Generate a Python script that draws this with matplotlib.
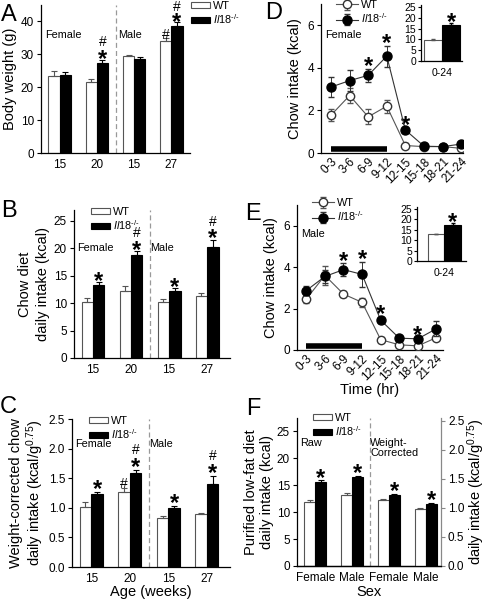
import matplotlib
matplotlib.use('Agg')
import matplotlib.pyplot as plt
import numpy as np

plt.rcParams['font.family'] = ['Liberation Sans', 'DejaVu Sans']
plt.rcParams['mathtext.fontset'] = 'custom'
plt.rcParams['mathtext.rm'] = 'Liberation Sans'
plt.rcParams['mathtext.it'] = 'Liberation Sans:italic'
plt.rcParams['mathtext.bf'] = 'Liberation Sans:bold'
plt.rcParams['axes.linewidth'] = 0.9

KO_LABEL = r'$\mathit{Il18}^{\text{-/-}}$'
WT_LABEL = 'WT'

# ---------------- data ----------------
age_labels = ['15', '20', '15', '27']
sex_labels = ['Female', 'Male', 'Female', 'Male']
time_labels = ['0-3', '3-6', '6-9', '9-12', '12-15', '15-18', '18-21', '21-24']

# A: body weight (g)
bw_wt = [23.5, 21.7, 29.6, 34.1]
bw_wt_err = [1.4, 0.7, 0.2, 1.0]
bw_ko = [23.8, 27.4, 28.6, 38.6]
bw_ko_err = [0.9, 0.8, 0.6, 1.2]

# B: chow daily intake (kcal)
chow_wt = [10.3, 12.3, 10.2, 11.4]
chow_wt_err = [0.7, 0.8, 0.5, 0.5]
chow_ko = [13.3, 18.8, 12.2, 20.3]
chow_ko_err = [0.5, 0.7, 0.5, 1.3]

# C: weight-corrected chow intake (kcal/g^0.75)
wc_wt = [1.02, 1.26, 0.83, 0.89]
wc_wt_err = [0.08, 0.07, 0.03, 0.02]
wc_ko = [1.23, 1.59, 0.99, 1.40]
wc_ko_err = [0.04, 0.05, 0.04, 0.13]

# D: female chow intake by time (kcal)
d_wt = [1.78, 2.70, 1.70, 2.20, 0.35, 0.30, 0.30, 0.22]
d_wt_err = [0.30, 0.35, 0.35, 0.30, 0.10, 0.05, 0.05, 0.10]
d_ko = [3.10, 3.40, 3.65, 4.55, 1.08, 0.32, 0.30, 0.42]
d_ko_err = [0.45, 0.50, 0.30, 0.50, 0.12, 0.05, 0.05, 0.08]
d_tot_wt, d_tot_wt_err = 9.6, 0.5
d_tot_ko, d_tot_ko_err = 16.9, 0.8

# E: male chow intake by time (kcal)
e_wt = [2.46, 3.60, 2.70, 2.30, 0.50, 0.25, 0.20, 0.60]
e_wt_err = [0.20, 0.45, 0.15, 0.20, 0.12, 0.05, 0.05, 0.10]
e_ko = [2.87, 3.55, 3.88, 3.65, 1.44, 0.57, 0.54, 1.03]
e_ko_err = [0.20, 0.30, 0.30, 0.60, 0.15, 0.08, 0.08, 0.35]
e_tot_wt, e_tot_wt_err = 12.8, 0.3
e_tot_ko, e_tot_ko_err = 17.3, 1.0

# F: purified low-fat diet
f_raw_wt = [11.8, 13.2]
f_raw_wt_err = [0.5, 0.4]
f_raw_ko = [15.6, 16.5]
f_raw_ko_err = [0.3, 0.3]
f_wc_wt = [1.13, 0.99]
f_wc_wt_err = [0.03, 0.01]
f_wc_ko = [1.22, 1.07]
f_wc_ko_err = [0.02, 0.02]

# ---------------- layout ----------------
W, H = 487, 601
fig = plt.figure(figsize=(W / 100, H / 100), dpi=100)


def axpx(l, r, t, b):
    return fig.add_axes([l / W, 1 - b / H, (r - l) / W, (b - t) / H])


def fpx(x, y):
    return (x / W, 1 - y / H)


TICK_FS = 8.5
LAB_FS = 10.5
TXT_FS = 7.8
STAR_FS = 17
HASH_FS = 10
BW = 0.3
WT_EDGE = '#555555'
DASH_C = '#999999'


def style(ax, right=False):
    ax.spines['top'].set_visible(False)
    if not right:
        ax.spines['right'].set_visible(False)
    ax.tick_params(axis='y', direction='out', length=3, width=0.8, labelsize=TICK_FS, pad=2)
    ax.tick_params(axis='x', length=0, labelsize=TICK_FS, pad=4)


def bars(ax, x, wt, wte, ko, koe):
    z = np.zeros(len(wt))
    ax.bar(np.asarray(x) - BW / 2, wt, BW, color='white', edgecolor=WT_EDGE, linewidth=0.8,
           yerr=[z, wte], error_kw=dict(ecolor=WT_EDGE, elinewidth=0.8, capsize=2, capthick=0.8))
    ax.bar(np.asarray(x) + BW / 2, ko, BW, color='black', edgecolor='black', linewidth=0.8,
           yerr=[z, koe], error_kw=dict(ecolor='black', elinewidth=0.8, capsize=2, capthick=0.8))


def mark(ax, x, y, star=True, hash_=False, soff=0.5, hoff=None):
    """place * and/or # above a point (offsets in points)"""
    if star:
        ax.annotate('*', (x, y), xytext=(0, soff), textcoords='offset points',
                    ha='center', va='center', fontsize=STAR_FS, fontweight='bold')
    if hash_:
        if hoff is None:
            hoff = soff + 12.5 if star else 1.5
        ax.annotate('#', (x, y), xytext=(0, hoff), textcoords='offset points',
                    ha='center', va='center', fontsize=HASH_FS)


def bar_handles():
    return [plt.Rectangle((0, 0), 1, 1, fc='white', ec=WT_EDGE, lw=0.8),
            plt.Rectangle((0, 0), 1, 1, fc='black', ec='black', lw=0.8)]


def bar_legend(ax, x, y):
    ax.legend(bar_handles(), [WT_LABEL, KO_LABEL], loc='upper left', bbox_to_anchor=fpx(x, y),
              bbox_transform=fig.transFigure, frameon=False, fontsize=TXT_FS,
              handlelength=1.75, handleheight=0.45, handletextpad=0.25, labelspacing=0.1,
              borderpad=0, borderaxespad=0)


# ---------------- A ----------------
axA = axpx(41, 190, 5, 153)
xA = np.arange(4)
bars(axA, xA, bw_wt, bw_wt_err, bw_ko, bw_ko_err)
axA.set_xlim(-0.5, 3.5)
axA.set_ylim(0, 45)
axA.set_yticks([0, 10, 20, 30, 40])
axA.set_xticks(xA)
axA.set_xticklabels(age_labels)
axA.axvline(1.5, color=DASH_C, ls='--', lw=0.9, dashes=(4, 2.5))
style(axA)
axA.set_ylabel('Body weight (g)', fontsize=LAB_FS, labelpad=3)
axA.text(0.03, 0.8, 'Female', transform=axA.transAxes, fontsize=TXT_FS, ha='left', va='center')
axA.text(0.52, 0.8, 'Male', transform=axA.transAxes, fontsize=TXT_FS, ha='left', va='center')
mark(axA, 1 + BW / 2, bw_ko[1] + bw_ko_err[1], hash_=True)
mark(axA, 3 - BW / 2, bw_wt[3] + bw_wt_err[3], star=False, hash_=True)
mark(axA, 3 + BW / 2, bw_ko[3] + bw_ko_err[3], hash_=True, soff=0, hoff=11)
bar_legend(axA, 191, 1)

# ---------------- B ----------------
axB = axpx(74, 230, 210, 358)
bars(axB, xA, chow_wt, chow_wt_err, chow_ko, chow_ko_err)
axB.set_xlim(-0.5, 3.6)
axB.set_ylim(0, 27)
axB.set_yticks([0, 5, 10, 15, 20, 25])
axB.set_xticks(xA)
axB.set_xticklabels(age_labels)
axB.axvline(1.5, color=DASH_C, ls='--', lw=0.9, dashes=(4, 2.5))
style(axB)
axB.set_ylabel('Chow diet\ndaily intake (kcal)', fontsize=LAB_FS, labelpad=3, linespacing=1.3)
axB.text(0.02, 0.74, 'Female', transform=axB.transAxes, fontsize=TXT_FS, ha='left', va='center')
axB.text(0.485, 0.74, 'Male', transform=axB.transAxes, fontsize=TXT_FS, ha='left', va='center')
mark(axB, 0 + BW / 2, chow_ko[0] + chow_ko_err[0])
mark(axB, 1 + BW / 2, chow_ko[1] + chow_ko_err[1], hash_=True)
mark(axB, 2 + BW / 2, chow_ko[2] + chow_ko_err[2])
mark(axB, 3 + BW / 2, chow_ko[3] + chow_ko_err[3], hash_=True)
bar_legend(axB, 91, 207)

# ---------------- C ----------------
axC = axpx(72, 230, 419, 567)
bars(axC, xA, wc_wt, wc_wt_err, wc_ko, wc_ko_err)
axC.set_xlim(-0.5, 3.6)
axC.set_ylim(0, 2.5)
axC.set_yticks([0, 0.5, 1.0, 1.5, 2.0, 2.5])
axC.set_yticklabels(['0.0', '0.5', '1.0', '1.5', '2.0', '2.5'])
axC.set_xticks(xA)
axC.set_xticklabels(age_labels)
axC.axvline(1.5, color=DASH_C, ls='--', lw=0.9, dashes=(4, 2.5))
style(axC)
axC.set_ylabel('Weight-corrected chow\ndaily intake (kcal/g$^{0.75}$)', fontsize=LAB_FS,
               labelpad=2, linespacing=1.1)
axC.set_xlabel('Age (weeks)', fontsize=LAB_FS, labelpad=0)
axC.text(0.02, 0.83, 'Female', transform=axC.transAxes, fontsize=TXT_FS, ha='left', va='center')
axC.text(0.485, 0.83, 'Male', transform=axC.transAxes, fontsize=TXT_FS, ha='left', va='center')
mark(axC, 0 + BW / 2, wc_ko[0] + wc_ko_err[0], soff=2)
mark(axC, 1 - BW / 2, wc_wt[1] + wc_wt_err[1], star=False, hash_=True, hoff=3)
mark(axC, 1 + BW / 2, wc_ko[1] + wc_ko_err[1], hash_=True, soff=2)
mark(axC, 2 + BW / 2, wc_ko[2] + wc_ko_err[2], soff=2)
mark(axC, 3 + BW / 2, wc_ko[3] + wc_ko_err[3], hash_=True, soff=2)
bar_legend(axC, 89, 416)


# ---------------- D / E line panels ----------------
def line_panel(ax, wt, wte, ko, koe, stars, xlim):
    x = np.arange(len(wt))
    ax.errorbar(x, wt, yerr=wte, fmt='-o', color='#555555', mfc='white', mec='#333333',
                ms=6, lw=0.8, elinewidth=0.7, capsize=2, ecolor='#555555', label=WT_LABEL, zorder=3)
    ax.errorbar(x, ko, yerr=koe, fmt='-o', color='#333333', mfc='black', mec='black',
                ms=6.5, lw=0.8, elinewidth=0.7, capsize=2, ecolor='#333333', label=KO_LABEL, zorder=4)
    ax.hlines(0.2, 0, 3, colors='black', lw=4, zorder=2)
    ax.set_xlim(*xlim)
    ax.set_ylim(0, 7)
    ax.set_yticks([0, 2, 4, 6])
    ax.set_xticks(x)
    ax.set_xticklabels(time_labels, rotation=45, ha='right', rotation_mode='anchor')
    style(ax)
    ax.tick_params(axis='x', pad=2)
    for i in stars:
        mark(ax, i, ko[i] + koe[i], soff=1.5)
    ax.set_ylabel('Chow intake (kcal)', fontsize=LAB_FS, labelpad=4)


def inset(ax, wt, wte, ko, koe, xlim):
    ax.bar([-0.5], [wt], 1, color='white', edgecolor=WT_EDGE, lw=0.8,
           yerr=[[0], [wte]], error_kw=dict(ecolor=WT_EDGE, elinewidth=0.7, capsize=1.5))
    ax.bar([0.5], [ko], 1, color='black', edgecolor='black', lw=0.8,
           yerr=[[0], [koe]], error_kw=dict(ecolor='black', elinewidth=0.7, capsize=1.5))
    ax.set_xlim(*xlim)
    ax.set_ylim(0, 26)
    ax.set_yticks([0, 5, 10, 15, 20, 25])
    ax.set_xticks([0])
    ax.set_xticklabels(['0-24'])
    style(ax)
    ax.tick_params(axis='y', labelsize=7.5, length=2.5, pad=1)
    ax.tick_params(axis='x', labelsize=7.5, pad=5)
    mark(ax, 0.5, ko + koe, soff=0.5)


def line_legend(ax, x, y):
    ax.legend(loc='upper left', bbox_to_anchor=fpx(x, y), bbox_transform=fig.transFigure,
              frameon=False, fontsize=TXT_FS, handlelength=2.0, handletextpad=0.3,
              labelspacing=0.15, borderpad=0, borderaxespad=0)


axD = axpx(321, 463, 4, 153)
line_panel(axD, d_wt, d_wt_err, d_ko, d_ko_err, [2, 3, 4], (-0.54, 7.1))
axD.text(0.03, 0.79, 'Female', transform=axD.transAxes, fontsize=TXT_FS, ha='left', va='center')
line_legend(axD, 336, 0)
axDi = axpx(421, 462, 5, 61)
inset(axDi, d_tot_wt, d_tot_wt_err, d_tot_ko, d_tot_ko_err, (-1.15, 1.1))

axE = axpx(297, 443, 205, 350)
line_panel(axE, e_wt, e_wt_err, e_ko, e_ko_err, [2, 3, 4, 6], (-0.5, 7.35))
axE.text(0.03, 0.8, 'Male', transform=axE.transAxes, fontsize=TXT_FS, ha='left', va='center')
axE.set_xlabel('Time (hr)', fontsize=LAB_FS, labelpad=0)
line_legend(axE, 312, 198)
axEi = axpx(417, 466, 207, 261)
inset(axEi, e_tot_wt, e_tot_wt_err, e_tot_ko, e_tot_ko_err, (-1.65, 1.3))

# ---------------- F ----------------
axF = axpx(297, 441, 418, 566)
axF2 = axF.twinx()
xr = np.array([0, 1])
xw = np.array([2, 3])
bars(axF, xr, f_raw_wt, f_raw_wt_err, f_raw_ko, f_raw_ko_err)
bars(axF2, xw, f_wc_wt, f_wc_wt_err, f_wc_ko, f_wc_ko_err)
axF.set_xlim(-0.5, 3.42)
axF.set_ylim(0, 27.5)
axF.set_yticks([0, 5, 10, 15, 20, 25])
axF2.set_ylim(0, 2.55)
axF2.set_yticks([0, 0.5, 1.0, 1.5, 2.0, 2.5])
axF2.set_yticklabels(['0.0', '0.5', '1.0', '1.5', '2.0', '2.5'])
axF.set_xticks(np.arange(4))
axF.set_xticklabels(sex_labels)
axF.axvline(1.5, color=DASH_C, ls='--', lw=0.9, dashes=(4, 2.5))
style(axF)
axF2.spines['top'].set_visible(False)
axF2.spines['left'].set_visible(False)
axF2.spines['right'].set_color('#888888')
axF2.tick_params(axis='y', direction='out', length=3, width=0.8, labelsize=TICK_FS, pad=2,
                 colors='black')
axF2.tick_params(axis='y', color='#888888')
axF.set_ylabel('Purified low-fat diet\ndaily intake (kcal)', fontsize=LAB_FS, labelpad=2,
               linespacing=1.15)
axF2.set_ylabel('daily intake (kcal/g$^{0.75}$)', fontsize=LAB_FS, labelpad=0.5)
axF.set_xlabel('Sex', fontsize=LAB_FS, labelpad=1)
axF.text(0.02, 0.83, 'Raw', transform=axF.transAxes, fontsize=TXT_FS, ha='left', va='center')
axF.text(0.51, 0.795, 'Weight-\nCorrected', transform=axF.transAxes, fontsize=TXT_FS,
         ha='left', va='center', linespacing=1.0)
for i in range(2):
    mark(axF, xr[i] + BW / 2, f_raw_ko[i] + f_raw_ko_err[i], soff=1.5)
    mark(axF2, xw[i] + BW / 2, f_wc_ko[i] + f_wc_ko_err[i], soff=1.5)
bar_legend(axF2, 313, 413)

# ---------------- panel letters ----------------
for letter, (x, y) in {'A': (1, 4), 'B': (1, 200), 'C': (0, 396), 'D': (265, 2),
                       'E': (245, 203), 'F': (246, 398)}.items():
    fig.text(*fpx(x, y), letter, fontsize=17, ha='left', va='top')

fig.savefig('out.png', dpi=100)
